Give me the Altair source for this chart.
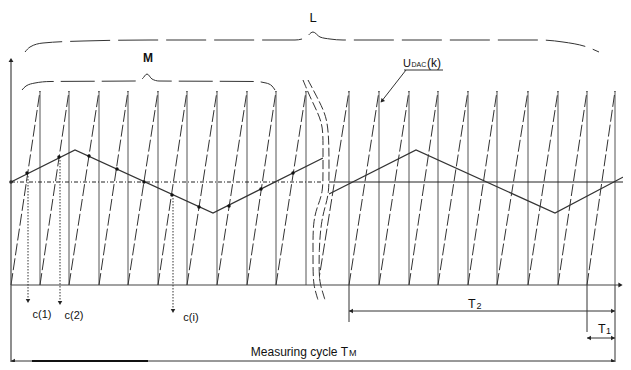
import altair as alt
import pandas as pd

# ---------------- data (t = time units, u = level units) ----------------
RAMP_TOP = 194
# sawtooth: ramp k rises from (t[k], 0) to (t[k+1], RAMP_TOP), then drops
left_ramp_t = [0, 29, 58, 88, 117, 147, 176, 206, 236, 265, 295]
right_ramp_t = [307, 338, 368, 398, 427, 457, 486, 517, 547, 576, 604]

# slowly varying input signal (triangle)
tri_left_t = [0, 64, 202, 312]
tri_left_u = [103, 135, 72, 127]
tri_right_t = [318, 405, 544, 616]
tri_right_u = [91, 135, 72, 110]
zero_u = 103
zero_left = [0, 312]
zero_right = [318, 616]

# sample points (ramp meets signal)
sample_t = [0, 16, 48, 78, 106, 133, 161, 188, 218, 250, 282]
sample_u = [103, 112, 128, 129, 116, 103, 90, 78, 79, 96, 112]

# comparator outputs c(1), c(2), c(i)
c_labels = ["c(1)", "c(2)", "c(i)"]
c_t = [17, 49, 162]
c_top = [109, 125, 87]
c_bot = [-14, -16, -24]
c_lab_t = [31, 63, 180]
c_lab_u = [-30, -31, -33]

# axis break (two wavy lines)
brk_u = [205, 188, 172, 158, 138, 115, 92, 78, 62, 35, 5, -5, -15]
brk_tl = [292, 299, 307, 312, 312, 312, 312, 306, 302, 302, 302, 304, 307]
brk_tr = [297, 306, 314, 317, 318, 318, 318, 314, 310, 308, 308, 311, 314]

# braces
L_t = [14, 19, 32, 72, 139, 284, 294, 302, 309, 319, 332, 529, 552, 576, 588]
L_u = [233, 238, 242, 244, 245, 245, 247, 253, 248, 246, 245, 245, 243, 238, 233]
M_t = [11, 15, 24, 39, 124, 131, 136, 141, 148, 244, 255, 261, 264]
M_u = [195, 199, 202, 203.5, 204, 206, 211, 206, 204, 203.5, 202, 199, 195]

# time intervals
T2_span = [338, 604]
T1_span = [576, 604]
TM_span = [0, 604]
T2_level, T1_level, TM_level = -26, -53, -76

FONT = "Liberation Sans, Arial, sans-serif"
INK = "#222"

X = alt.Scale(domain=[-3, 612], nice=False, zero=False)
Y = alt.Scale(domain=[-77, 277], nice=False, zero=False)


def xq(f="t"):
    return alt.X(f"{f}:Q", scale=X, axis=None)


def yq(f="u"):
    return alt.Y(f"{f}:Q", scale=Y, axis=None)


def rules(rows, **mk):
    df = pd.DataFrame(rows, columns=["t", "u", "t2", "u2"])
    return alt.Chart(df).mark_rule(**mk).encode(
        x=xq(), y=yq(), x2="t2:Q", y2="u2:Q")


def poly(ts, us, **mk):
    df = pd.DataFrame({"t": ts, "u": us, "i": list(range(len(ts)))})
    return alt.Chart(df).mark_line(**mk).encode(x=xq(), y=yq(), order="i:Q")


def points(ts, us, shape, size=22, angle=0, color=INK):
    df = pd.DataFrame({"t": ts, "u": us})
    kw = dict(shape=shape, size=size, filled=True, color=color, opacity=1)
    if angle:
        kw["angle"] = angle
    return alt.Chart(df).mark_point(**kw).encode(x=xq(), y=yq())


def texts(ts, us, labels, size=12, align="center", baseline="middle", weight="normal"):
    df = pd.DataFrame({"t": ts, "u": us, "s": labels})
    return alt.Chart(df).mark_text(
        font=FONT, fontSize=size, align=align, baseline=baseline,
        fontWeight=weight, color="#111").encode(x=xq(), y=yq(), text="s:N")


layers = []

# ramps (dashed) and drops (solid)
ramp_rows = []
drop_rows = []
for seq in (left_ramp_t, right_ramp_t):
    for a, b in zip(seq[:-1], seq[1:]):
        ramp_rows.append((a, 0, b, RAMP_TOP))
        drop_rows.append((b, 0, b, RAMP_TOP))
layers.append(rules(drop_rows, color="#555", strokeWidth=1))
layers.append(rules(ramp_rows, color="#333", strokeWidth=1, strokeDash=[12, 3]))

# zero line
layers.append(rules([(zero_left[0], zero_u, zero_left[1], zero_u)],
                    color=INK, strokeWidth=1, strokeDash=[4, 2, 1, 2]))
layers.append(rules([(zero_right[0], zero_u, zero_right[1], zero_u)],
                    color=INK, strokeWidth=1))

# triangle signal
layers.append(poly(tri_left_t, tri_left_u, color="#333", strokeWidth=1.3))
layers.append(poly(tri_right_t, tri_right_u, color="#333", strokeWidth=1.3))
layers.append(alt.Chart(pd.DataFrame({"t": sample_t, "u": sample_u}))
              .mark_circle(size=12, color="#111", opacity=1).encode(x=xq(), y=yq()))

# axis break: white gap between two wavy dashed lines
brk = pd.DataFrame({"u": brk_u, "tl": brk_tl, "tr": brk_tr})
layers.append(alt.Chart(brk).mark_area(orient="horizontal", color="white",
                                       interpolate="monotone", opacity=1)
              .encode(y=yq(), x=alt.X("tl:Q", scale=X, axis=None), x2="tr:Q"))
for col in ("tl", "tr"):
    layers.append(poly(brk[col].tolist(), brk_u, color="#333", strokeWidth=1,
                       strokeDash=[9, 3], interpolate="basis"))

# axes
layers.append(rules([(0, -77, 0, 225), (0, 0, 609, 0)], color="#444", strokeWidth=1.2))
layers.append(points([0], [225], "triangle-up", size=24))
layers.append(points([609.5], [0], "triangle-right", size=24))

# comparator outputs
layers.append(rules([(t, a, t, b) for t, a, b in zip(c_t, c_top, c_bot)],
                    color="#333", strokeWidth=1, strokeDash=[1.5, 1.5]))
layers.append(points(c_t, [b - 2 for b in c_bot], "triangle-down", size=20))
layers.append(texts(c_lab_t, c_lab_u, c_labels, size=11))

# time intervals
layers.append(rules([(T2_span[0], 0, T2_span[0], -37),
                     (T1_span[0], 0, T1_span[0], -47),
                     (T2_span[1], 0, T2_span[1], -77)], color="#333", strokeWidth=1))
layers.append(rules([(T2_span[0], T2_level, T2_span[1], T2_level),
                     (T1_span[0], T1_level, T1_span[1], T1_level),
                     (TM_span[0], TM_level, TM_span[1], TM_level)], color="#333", strokeWidth=1))
layers.append(rules([(21, TM_level, 137, TM_level)], color="#111", strokeWidth=2.2))
layers.append(points([T2_span[0] + 2, T1_span[0] + 2, TM_span[0] + 2],
                     [T2_level, T1_level, TM_level], "triangle-left", size=20))
layers.append(points([T2_span[1] - 2, T1_span[1] - 2, TM_span[1] - 2],
                     [T2_level, T1_level, TM_level], "triangle-right", size=20))
layers.append(texts([457, 587], [-19, -44], ["T", "T"], size=12.5, align="left"))
layers.append(texts([465.5, 595], [-21, -46], ["2", "1"], size=9, align="left"))
layers.append(texts([337], [-71], ["Measuring cycle T"], size=12, align="right",
                    baseline="alphabetic"))
layers.append(texts([338], [-71], ["M"], size=9, align="left", baseline="alphabetic"))

# braces
layers.append(poly(L_t, L_u, color="#333", strokeWidth=1, strokeDash=[40, 8],
                   interpolate="monotone"))
layers.append(poly(M_t, M_u, color="#333", strokeWidth=1, strokeDash=[34, 7],
                   interpolate="monotone"))
layers.append(texts([302], [267], ["L"], size=13))
layers.append(texts([137], [227.5], ["M"], size=12, weight="bold"))

# U_DAC(k) label with leader
layers.append(rules([(393, 215, 432, 215), (395, 215, 370, 183)], color="#333", strokeWidth=1))
layers.append(points([371], [184], "triangle-up", size=22, angle=220))
layers.append(texts([392], [218], ["U"], size=11, align="left", baseline="alphabetic"))
layers.append(texts([400.5], [218], ["DAC"], size=7, align="left", baseline="alphabetic"))
layers.append(texts([416], [218], ["(k)"], size=12, align="left", baseline="alphabetic"))

chart = alt.layer(*layers).properties(
    width=615, height=354, padding=0, autosize="none", background="white"
).configure_view(stroke=None)

chart.save("out.html", embed_options={"renderer": "svg", "actions": False})
